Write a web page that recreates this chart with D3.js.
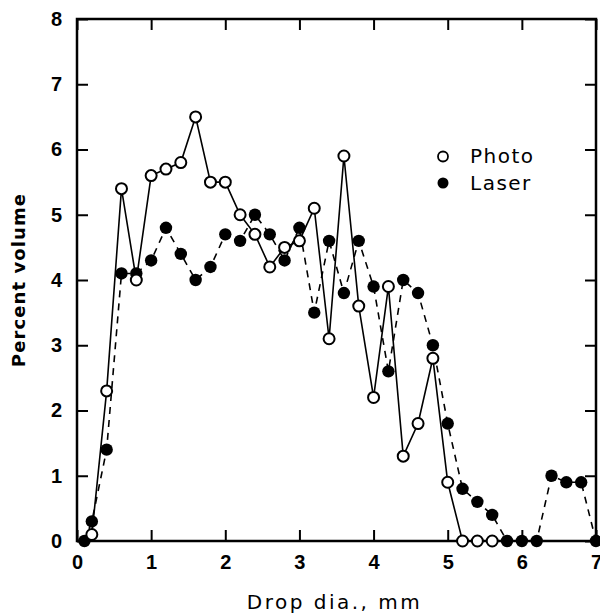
<!DOCTYPE html>
<html><head><meta charset="utf-8">
<script src="https://cdn.jsdelivr.net/npm/d3@7"></script>
<style>body{margin:0;background:#fff}svg{display:block}</style>
</head><body>
<svg id="c" width="600" height="614"></svg>
<script>
const photoX = [0.2,0.4,0.6,0.8,1.0,1.2,1.4,1.6,1.8,2.0,2.2,2.4,2.6,2.8,3.0,3.2,3.4,3.6,3.8,4.0,4.2,4.4,4.6,4.8,5.0,5.2,5.4,5.6];
const photoY = [0.1,2.3,5.4,4.0,5.6,5.7,5.8,6.5,5.5,5.5,5.0,4.7,4.2,4.5,4.6,5.1,3.1,5.9,3.6,2.2,3.9,1.3,1.8,2.8,0.9,0,0,0];
const laserX = [0.1,0.2,0.4,0.6,0.8,1.0,1.2,1.4,1.6,1.8,2.0,2.2,2.4,2.6,2.8,3.0,3.2,3.4,3.6,3.8,4.0,4.2,4.4,4.6,4.8,5.0,5.2,5.4,5.6,5.8,6.0,6.2,6.4,6.6,6.8,7.0];
const laserY = [0,0.3,1.4,4.1,4.1,4.3,4.8,4.4,4.0,4.2,4.7,4.6,5.0,4.7,4.3,4.8,3.5,4.6,3.8,4.6,3.9,2.6,4.0,3.8,3.0,1.8,0.8,0.6,0.4,0,0,0,1.0,0.9,0.9,0];
const xTicks = [0,1,2,3,4,5,6,7];
const yTicks = [0,1,2,3,4,5,6,7,8];
const seriesNames = ["Photo","Laser"];
const xTitle = "Drop dia., mm";
const yTitle = "Percent volume";

const svg = d3.select("#c");
const L = 77, R = 596, T = 19, B = 541;
const x = d3.scaleLinear().domain([0,7]).range([L,R]);
const y = d3.scaleLinear().domain([0,8]).range([B,T]);
const font = "'Liberation Sans', Arial, sans-serif";
const font2 = "'DejaVu Sans', sans-serif";
const tickLen = 11;

// axes
const g = svg.append("g");
g.append("g").attr("transform",`translate(0,${B})`)
  .call(d3.axisBottom(x).tickValues(xTicks).tickSize(-tickLen).tickPadding(14).tickFormat(d3.format("d")));
g.append("g").attr("transform",`translate(0,${T})`)
  .call(d3.axisTop(x).tickValues(xTicks).tickSize(-tickLen).tickFormat(""));
g.append("g").attr("transform",`translate(${L},0)`)
  .call(d3.axisLeft(y).tickValues(yTicks).tickSize(-tickLen).tickPadding(15).tickFormat(d3.format("d")));
g.append("g").attr("transform",`translate(${R},0)`)
  .call(d3.axisRight(y).tickValues(yTicks).tickSize(-tickLen).tickFormat(""));
g.selectAll(".domain").remove();
g.selectAll(".tick line").attr("stroke","#000").attr("stroke-width",2);
g.selectAll(".tick text").attr("font-family",font).attr("font-size",20).attr("font-weight","bold").attr("fill","#000");
svg.append("rect").attr("x",L).attr("y",T).attr("width",R-L).attr("height",B-T)
  .attr("fill","none").attr("stroke","#000").attr("stroke-width",2.5);

// lines
const photo = photoX.map((v,i)=>[v,photoY[i]]);
const laser = laserX.map((v,i)=>[v,laserY[i]]);
const line = d3.line().x(d=>x(d[0])).y(d=>y(d[1]));
svg.append("path").attr("d",line(laser)).attr("fill","none").attr("stroke","#000")
  .attr("stroke-width",1.6).attr("stroke-dasharray","7,6");
svg.append("path").attr("d",line(photo)).attr("fill","none").attr("stroke","#000").attr("stroke-width",1.6);

svg.append("g").selectAll("circle").data(laser).join("circle")
  .attr("cx",d=>x(d[0])).attr("cy",d=>y(d[1])).attr("r",6.2).attr("fill","#000");
svg.append("g").selectAll("circle").data(photo).join("circle")
  .attr("cx",d=>x(d[0])).attr("cy",d=>y(d[1])).attr("r",5.5).attr("fill","#fff").attr("stroke","#000").attr("stroke-width",2);

// legend
const leg = svg.append("g");
leg.append("circle").attr("cx",443).attr("cy",156.5).attr("r",5).attr("fill","#fff").attr("stroke","#000").attr("stroke-width",1.8);
leg.append("circle").attr("cx",443).attr("cy",183).attr("r",5.5).attr("fill","#000");
leg.selectAll("text").data(seriesNames).join("text")
  .attr("x",470).attr("y",(d,i)=>163+i*27)
  .attr("font-family",font2).attr("font-size",20).attr("letter-spacing",1.5).attr("fill","#000").text(d=>d);

// titles
svg.append("text").attr("x",(L+R)/2-2).attr("y",609).attr("text-anchor","middle")
  .attr("font-family",font2).attr("font-size",20).attr("letter-spacing",2.5).attr("fill","#000").text(xTitle);
svg.append("text").attr("transform",`translate(25,${(T+B)/2}) rotate(-90)`).attr("text-anchor","middle")
  .attr("font-family",font2).attr("font-size",18).attr("font-weight","bold").attr("letter-spacing",1.1).attr("fill","#000").text(yTitle);
</script>
</body></html>
